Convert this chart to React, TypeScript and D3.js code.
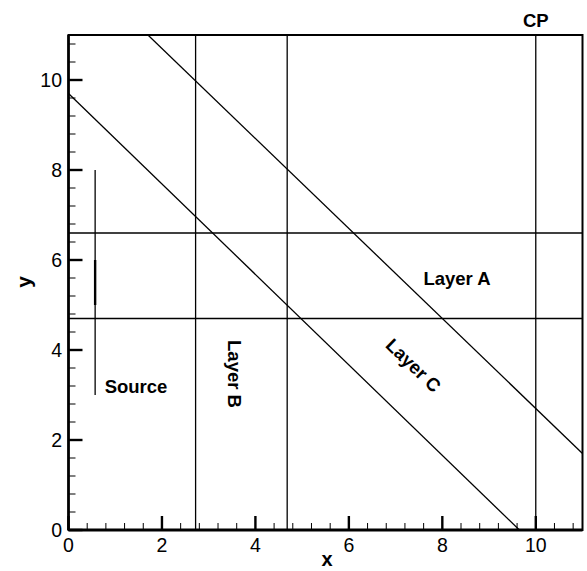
import React from "react";
import * as d3 from "d3";

// Axis ticks
const majorTicks = [0, 2, 4, 6, 8, 10];
const minorStep = 0.4;

// Vertical boundaries (x positions)
const layerBoundsX = [2.72, 4.68];
const cpX = 10;
// Horizontal boundaries (y positions)
const layerBoundsY = [6.6, 4.7];

// Source segment
const sourceX = 0.57;
const sourceSpan = [3, 8];
const sourceCore = [5, 6];

// Inclined interfaces
const layerALine: [number, number][] = [
  [1.7, 11],
  [11, 1.7],
];
const layerCLine: [number, number][] = [
  [0, 9.7],
  [9.65, 0],
];

const W = 587;
const H = 571;
const FONT = "Liberation Sans, Arial, Helvetica, sans-serif";

export default function App() {
  const x = d3.scaleLinear().domain([0, 11]).range([68.5, 582.5]);
  const y = d3.scaleLinear().domain([0, 11]).range([530, 35]);
  const line = d3
    .line<[number, number]>()
    .x((d) => x(d[0]))
    .y((d) => y(d[1]));

  const minor = d3.range(0, 11.001, minorStep).filter(
    (v) => !majorTicks.some((m) => Math.abs(m - v) < 1e-6)
  );

  const [x0, x1] = x.range();
  const [y0, y1] = y.range();

  return (
    <svg
      width={W}
      height={H}
      style={{ position: "absolute", left: 0, top: 0, background: "#fff" }}
      fontFamily={FONT}
    >
      <defs>
        <clipPath id="plot">
          <rect x={x0} y={y1} width={x1 - x0} height={y0 - y1} />
        </clipPath>
      </defs>

      <g clipPath="url(#plot)" stroke="#000" fill="none" strokeWidth={1.3}>
        {layerBoundsX.map((v) => (
          <line key={"vx" + v} x1={x(v)} x2={x(v)} y1={y0} y2={y1} />
        ))}
        <line x1={x(cpX)} x2={x(cpX)} y1={y0} y2={y1} />
        {layerBoundsY.map((v) => (
          <line key={"hy" + v} x1={x0} x2={x1} y1={y(v)} y2={y(v)} />
        ))}
        <path d={line(layerALine) || ""} />
        <path d={line(layerCLine) || ""} />
        <line
          x1={x(sourceX)}
          x2={x(sourceX)}
          y1={y(sourceSpan[0])}
          y2={y(sourceSpan[1])}
        />
        <line
          x1={x(sourceX)}
          x2={x(sourceX)}
          y1={y(sourceCore[0])}
          y2={y(sourceCore[1])}
          strokeWidth={2.4}
        />
      </g>

      {/* frame */}
      <rect
        x={x0}
        y={y1}
        width={x1 - x0}
        height={y0 - y1}
        fill="none"
        stroke="#000"
        strokeWidth={2}
      />
      <line x1={x0} x2={x1} y1={y0} y2={y0} stroke="#000" strokeWidth={3} />
      <line x1={x0} x2={x0} y1={y0} y2={y1} stroke="#000" strokeWidth={2.6} />

      {/* ticks */}
      <g stroke="#000">
        {majorTicks.map((t) => (
          <line key={"mx" + t} x1={x(t)} x2={x(t)} y1={y0} y2={y0 - 14} strokeWidth={2.4} />
        ))}
        {majorTicks.map((t) => (
          <line key={"my" + t} x1={x0} x2={x0 + 14} y1={y(t)} y2={y(t)} strokeWidth={2.4} />
        ))}
        {minor.map((t) => (
          <line key={"nx" + t} x1={x(t)} x2={x(t)} y1={y0} y2={y0 - 7} strokeWidth={1} />
        ))}
        {minor.map((t) => (
          <line key={"ny" + t} x1={x0} x2={x0 + 7} y1={y(t)} y2={y(t)} strokeWidth={1} />
        ))}
      </g>

      {/* tick labels */}
      <g fontSize={19.5} fill="#000">
        {majorTicks.map((t) => (
          <text key={"lx" + t} x={x(t)} y={552} textAnchor="middle">
            {t}
          </text>
        ))}
        {majorTicks.map((t) => (
          <text key={"ly" + t} x={62} y={y(t) + 7} textAnchor="end">
            {t}
          </text>
        ))}
      </g>

      {/* axis titles */}
      <text x={327} y={566} textAnchor="middle" fontSize={20} fontWeight="bold">
        x
      </text>
      <text
        transform={`translate(31,282) rotate(-90)`}
        textAnchor="middle"
        fontSize={21}
        fontWeight="bold"
      >
        y
      </text>

      {/* region labels */}
      <g fontSize={18.5} fontWeight="bold" fill="#000">
        <text x={x(cpX)} y={27} textAnchor="middle">
          CP
        </text>
        <text x={457} y={285} textAnchor="middle">
          Layer A
        </text>
        <text x={136} y={393} textAnchor="middle">
          Source
        </text>
        <text transform="translate(228,374) rotate(90)" textAnchor="middle">
          Layer B
        </text>
        <text transform="translate(409,370) rotate(44)" textAnchor="middle">
          Layer C
        </text>
      </g>
    </svg>
  );
}
